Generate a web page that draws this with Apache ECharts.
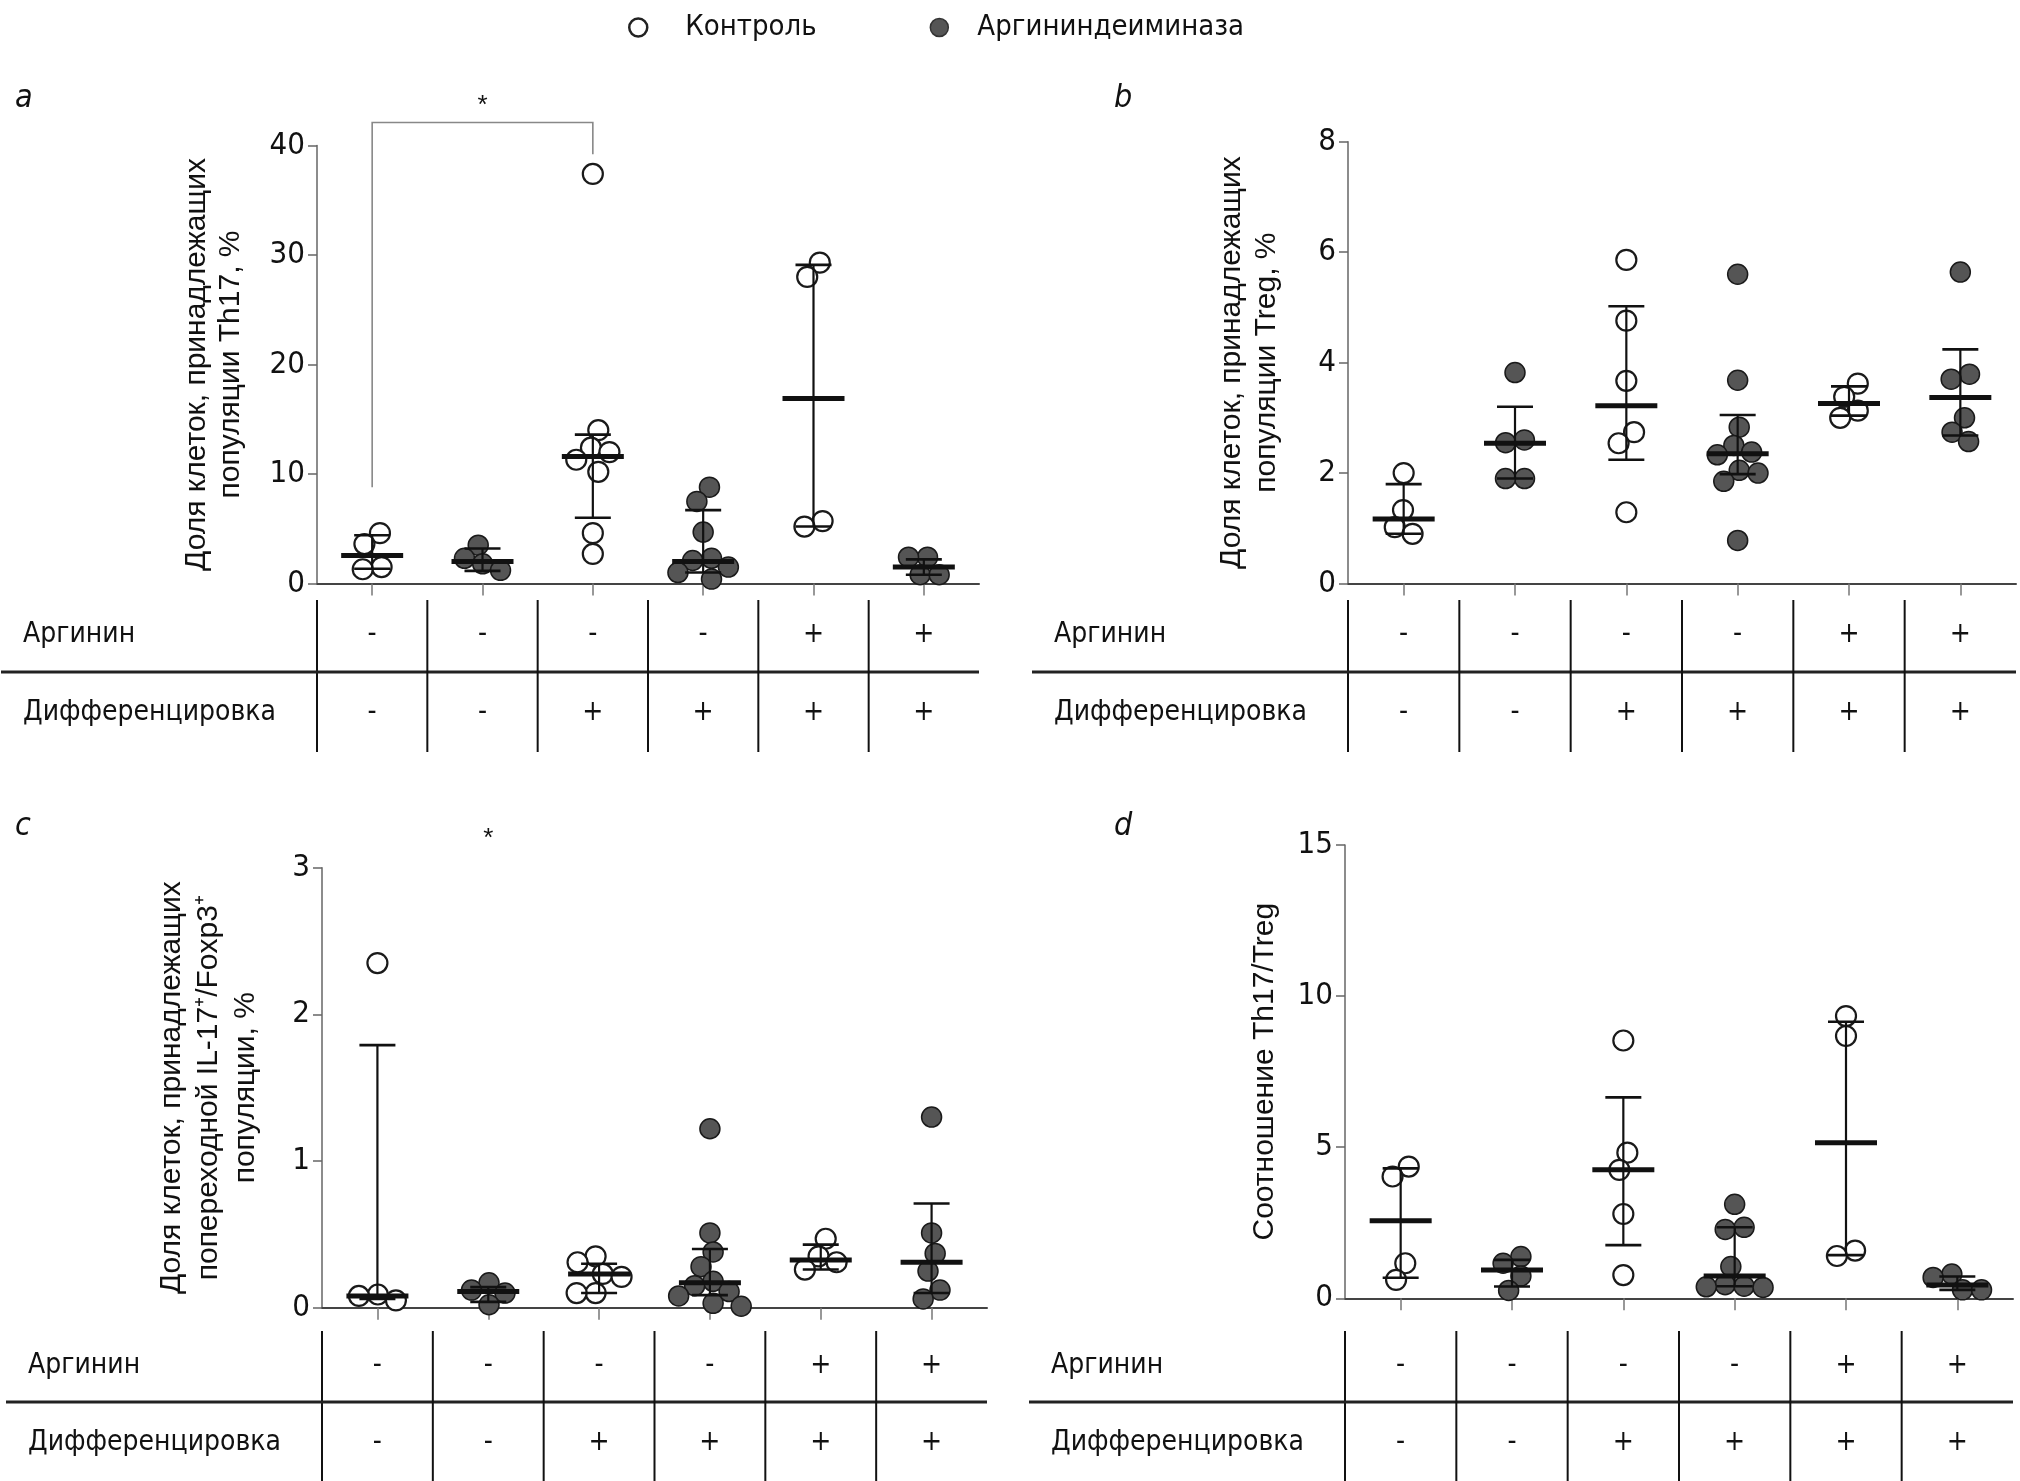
<!DOCTYPE html>
<html><head><meta charset="utf-8">
<script src="https://cdn.jsdelivr.net/npm/echarts@6/dist/echarts.min.js"></script>
<style>html,body{margin:0;padding:0;background:#fff}#c{width:2020px;height:1481px}</style>
</head><body><div id="c"></div>
<script>
// ---------- data ----------
const categories = ['Контроль −/−', 'АДИ −/−', 'Контроль −/+', 'АДИ −/+', 'Контроль +/+', 'АДИ +/+'];
const seriesNames = ['Контроль', 'Аргининдеиминаза'];
const tableRows = ['Аргинин', 'Дифференцировка'];
const arginineSigns = ['-', '-', '-', '-', '+', '+'];
const differentiationSigns = ['-', '-', '+', '+', '+', '+'];
const panelLetters = ['a', 'b', 'c', 'd'];

// a: Th17, %
const th17Ticks = [0, 10, 20, 30, 40];
const th17Points = [
  [4.6, 3.6, 1.5, 1.3],
  [3.5, 2.3, 1.8, 1.2],
  [37.4, 14.0, 12.4, 12.0, 11.3, 10.2, 4.6, 2.7],
  [8.8, 7.5, 4.7, 2.3, 2.1, 1.5, 1.0, 0.4],
  [29.3, 28.0, 5.7, 5.2],
  [2.4, 2.4, 0.8, 0.8]
];
const th17Median = [2.55, 2.0, 11.6, 2.0, 16.9, 1.5];
const th17Low = [1.35, 1.15, 6.0, 1.0, 5.2, 0.8];
const th17High = [4.4, 3.2, 13.6, 6.7, 29.1, 2.2];
const th17Bracket = { from: 0, to: 2, leftEnd: 8.8, top: 42.1, rightEnd: 39.2, starAt: 1, starValue: 43.6, label: '*' };

// b: Treg, %
const tregTicks = [0, 2, 4, 6, 8];
const tregPoints = [
  [2.0, 1.33, 1.02, 0.9],
  [3.82, 2.6, 2.55, 1.9, 1.9],
  [5.86, 4.76, 3.67, 2.74, 2.54, 1.29],
  [5.6, 3.68, 2.83, 2.5, 2.38, 2.33, 2.05, 2.0, 1.85, 0.78],
  [3.62, 3.38, 3.13, 3.0],
  [5.64, 3.79, 3.7, 3.0, 2.74, 2.57]
];
const tregMedian = [1.17, 2.54, 3.22, 2.35, 3.26, 3.37];
const tregLow = [0.9, 1.9, 2.24, 1.98, 3.04, 2.68];
const tregHigh = [1.8, 3.2, 5.02, 3.05, 3.57, 4.24];

// c: IL-17+/Foxp3+, %
const foxTicks = [0, 1, 2, 3];
const foxPoints = [
  [2.35, 0.09, 0.08, 0.05],
  [0.17, 0.12, 0.1, 0.02],
  [0.35, 0.31, 0.23, 0.21, 0.1, 0.1],
  [1.22, 0.51, 0.38, 0.28, 0.18, 0.15, 0.11, 0.08, 0.03, 0.01],
  [0.47, 0.35, 0.31, 0.26],
  [1.30, 0.51, 0.37, 0.25, 0.12, 0.06]
];
const foxMedian = [0.08, 0.11, 0.23, 0.17, 0.325, 0.31];
const foxLow = [0.06, 0.04, 0.1, 0.086, 0.26, 0.1];
const foxHigh = [1.79, 0.14, 0.3, 0.4, 0.43, 0.71];
const foxStar = { starAt: 1, starValue: 3.2, label: '*' };

// d: Th17/Treg
const ratioTicks = [0, 5, 10, 15];
const ratioPoints = [
  [4.36, 4.03, 1.16, 0.61],
  [1.38, 1.16, 0.74, 0.26],
  [8.53, 4.82, 4.25, 2.79, 0.77],
  [3.11, 2.35, 2.28, 1.05, 0.45, 0.4, 0.38, 0.36],
  [9.34, 8.68, 1.58, 1.4],
  [0.8, 0.69, 0.28, 0.28]
];
const ratioMedian = [2.57, 0.94, 4.25, 0.74, 5.15, 0.44];
const ratioLow = [0.68, 0.39, 1.76, 0.4, 1.43, 0.28];
const ratioHigh = [4.3, 1.27, 6.65, 2.35, 9.15, 0.72];

const axisTitles = [
  'Доля клеток, принадлежащих\nпопуляции Th17, %',
  'Доля клеток, принадлежащих\nпопуляции Treg, %',
  'Доля клеток, принадлежащих\nпопереходной IL-17\u207A/Foxp3\u207A\nпопуляции, %',
  'Соотношение Th17/Treg'
];

// ---------- styling ----------
const NARROW = "'Liberation Sans Narrow', 'Arial Narrow', 'DejaVu Sans Condensed', sans-serif";
const COND = "'DejaVu Sans Condensed', 'Liberation Sans Narrow', sans-serif";
const SANS = "'Liberation Sans', Arial, sans-serif";
const R = 10;
const SWARM_D = 19;
const DARK = '#555555';

const layout = [
  { plot: { left: 317, top: 145.5, width: 662, height: 438 }, table: { left: 317, top: 596, width: 662, height: 156 }, nameGap: 69, lineHeight: 34, letter: { left: 10, top: 78 } },
  { plot: { left: 1348, top: 141.7, width: 668, height: 441.8 }, table: { left: 1348, top: 596, width: 668, height: 156 }, nameGap: 64, lineHeight: 35, letter: { left: 1109, top: 78 } },
  { plot: { left: 322, top: 867.7, width: 665, height: 440 }, table: { left: 322, top: 1327, width: 665, height: 158 }, nameGap: 58, lineHeight: 37, letter: { left: 10, top: 806 } },
  { plot: { left: 1345, top: 845, width: 668, height: 453.3 }, table: { left: 1345, top: 1327, width: 668, height: 158 }, nameGap: 62, lineHeight: 37, letter: { left: 1109, top: 806 } }
];

const panels = [
  { ticks: th17Ticks, points: th17Points, median: th17Median, low: th17Low, high: th17High, bracket: th17Bracket },
  { ticks: tregTicks, points: tregPoints, median: tregMedian, low: tregLow, high: tregHigh },
  { ticks: foxTicks, points: foxPoints, median: foxMedian, low: foxLow, high: foxHigh, star: foxStar },
  { ticks: ratioTicks, points: ratioPoints, median: ratioMedian, low: ratioLow, high: ratioHigh }
];

// beeswarm dodge (pixel space); each cluster of touching points is centred
function swarm(ys, D) {
  const n = ys.length;
  const order = ys.map((y, i) => i).sort((a, b) => ys[a] - ys[b]);
  const placed = [];
  const offs = new Array(n).fill(0);
  for (const i of order) {
    const y = ys[i];
    const iv = [];
    for (const p of placed) {
      const dy = Math.abs(p.y - y);
      if (dy < D) { const w = Math.sqrt(D * D - dy * dy); iv.push([p.x - w, p.x + w]); }
    }
    const cands = [0];
    iv.forEach(([a, b]) => cands.push(a, b));
    cands.sort((a, b) => (Math.abs(a) - Math.abs(b)) || (a - b));
    let x = 0;
    for (const c of cands) {
      if (iv.every(([a, b]) => c <= a + 1e-6 || c >= b - 1e-6)) { x = c; break; }
    }
    offs[i] = x;
    placed.push({ x, y });
  }
  const comp = new Array(n).fill(-1);
  let c = 0;
  for (let i = 0; i < n; i++) {
    if (comp[i] >= 0) continue;
    const stack = [i]; comp[i] = c;
    while (stack.length) {
      const k = stack.pop();
      for (let j = 0; j < n; j++) {
        if (comp[j] < 0 && Math.abs(ys[j] - ys[k]) < D) { comp[j] = c; stack.push(j); }
      }
    }
    c++;
  }
  for (let q = 0; q < c; q++) {
    const members = offs.map((o, i) => i).filter(i => comp[i] === q);
    const xs = members.map(i => offs[i]);
    const shift = (Math.min(...xs) + Math.max(...xs)) / 2;
    members.forEach(i => { offs[i] -= shift; });
  }
  return offs;
}

function groupRenderer(panel) {
  return function (params, api) {
    const gi = api.value(0);
    const pts = panel.points[gi];
    const mid = api.coord([gi, panel.median[gi]]);
    const cx = mid[0];
    const ys = pts.map(v => api.coord([gi, v])[1]);
    const offs = swarm(ys, SWARM_D);
    const filled = gi % 2 === 1;
    const children = [];
    pts.forEach((v, k) => {
      children.push({ type: 'circle', shape: { cx: cx + offs[k], cy: ys[k], r: R },
        style: { fill: filled ? DARK : '#ffffff', stroke: '#1a1a1a', lineWidth: filled ? 1.5 : 2.2 } });
    });
    const yLo = api.coord([gi, panel.low[gi]])[1];
    const yHi = api.coord([gi, panel.high[gi]])[1];
    children.push({ type: 'line', shape: { x1: cx, y1: yLo, x2: cx, y2: yHi }, style: { stroke: '#111', lineWidth: 2.2 } });
    children.push({ type: 'line', shape: { x1: cx - 18, y1: yLo, x2: cx + 18, y2: yLo }, style: { stroke: '#111', lineWidth: 2.6 } });
    children.push({ type: 'line', shape: { x1: cx - 18, y1: yHi, x2: cx + 18, y2: yHi }, style: { stroke: '#111', lineWidth: 2.6 } });
    children.push({ type: 'line', shape: { x1: cx - 31, y1: mid[1], x2: cx + 31, y2: mid[1] }, style: { stroke: '#111', lineWidth: 5 } });
    return { type: 'group', children };
  };
}

function tableRenderer(params, api) {
  const i = api.value(0);
  const cs = params.coordSys;
  const p0 = api.coord([i, 0]);
  const p1 = api.coord([i, 1]);
  const band = api.size([1, 0])[0];
  const xl = p0[0] - band / 2;
  const txt = (s, pos) => ({ type: 'text', x: pos[0], y: pos[1],
    style: { text: s, fill: '#111', font: '28px ' + COND, align: 'center', verticalAlign: 'middle' } });
  const children = [
    txt(arginineSigns[i], p0),
    txt(differentiationSigns[i], p1),
    { type: 'line', shape: { x1: xl, y1: cs.y + 4, x2: xl, y2: cs.y + cs.height }, style: { stroke: '#111', lineWidth: 2 } }
  ];
  if (i === 0) {
    const ym = (p0[1] + p1[1]) / 2 - 2;
    children.push({ type: 'line', shape: { x1: cs.x - 316, y1: ym, x2: cs.x + cs.width, y2: ym }, style: { stroke: '#222', lineWidth: 3 } });
  }
  return { type: 'group', children };
}

function annotationRenderer(panel) {
  return function (params, api) {
    const children = [];
    const b = panel.bracket;
    if (b) {
      const p1 = api.coord([b.from, b.leftEnd]);
      const p2 = api.coord([b.from, b.top]);
      const p3 = api.coord([b.to, b.top]);
      const p4 = api.coord([b.to, b.rightEnd]);
      children.push({ type: 'polyline', shape: { points: [p1, p2, p3, p4] }, style: { stroke: '#888', lineWidth: 1.6, fill: null } });
    }
    const s = panel.bracket || panel.star;
    if (s) {
      const ps = api.coord([s.starAt, s.starValue]);
      children.push({ type: 'text', x: ps[0], y: ps[1], style: { text: s.label, fill: '#111', font: '26px ' + SANS, align: 'center', verticalAlign: 'middle' } });
    }
    return { type: 'group', children };
  };
}

// ---------- option ----------
const grid = [], xAxis = [], yAxis = [], series = [], title = [];
panels.forEach((panel, p) => {
  const L = layout[p];
  grid.push(Object.assign({}, L.plot));
  grid.push(Object.assign({}, L.table));
  const gPlot = 2 * p, gTab = 2 * p + 1;
  xAxis.push({
    type: 'category', gridIndex: gPlot, data: categories, boundaryGap: true,
    axisLabel: { show: false },
    axisTick: { show: true, alignWithLabel: true, length: 12, lineStyle: { color: '#777', width: 1.5 } },
    axisLine: { show: true, lineStyle: { color: '#444', width: 2 } },
    splitLine: { show: false }
  });
  xAxis.push({ type: 'category', gridIndex: gTab, data: categories, show: false });
  const t = panel.ticks;
  yAxis.push({
    type: 'value', gridIndex: gPlot, min: t[0], max: t[t.length - 1], interval: t[1] - t[0],
    axisLine: { show: true, lineStyle: { color: '#666', width: 1.5 } },
    axisTick: { show: true, length: 9, lineStyle: { color: '#666', width: 1.5 } },
    splitLine: { show: false },
    axisLabel: { fontSize: 31, fontFamily: NARROW, color: '#111', margin: 12 },
    name: axisTitles[p], nameLocation: 'middle', nameGap: L.nameGap, nameRotate: 90,
    nameTextStyle: { fontSize: 30, fontFamily: SANS, color: '#111', lineHeight: L.lineHeight }
  });
  yAxis.push({
    type: 'category', gridIndex: gTab, data: tableRows, inverse: true,
    axisLine: { show: false }, axisTick: { show: false }, splitLine: { show: false },
    axisLabel: { align: 'left', margin: 294, fontSize: 28, fontFamily: COND, color: '#111' }
  });
  [0, 1].forEach(kind => {
    const idx = categories.map((c, i) => i).filter(i => i % 2 === kind);
    series.push({
      type: 'custom', name: seriesNames[kind], xAxisIndex: gPlot, yAxisIndex: gPlot,
      data: idx.map(i => [i, panel.median[i]]),
      encode: { x: 0, y: 1 },
      itemStyle: kind === 0 ? { color: '#fff', borderColor: '#222' } : { color: DARK, borderColor: '#222' },
      renderItem: groupRenderer(panel), clip: false, z: 2
    });
  });
  series.push({
    type: 'custom', xAxisIndex: gTab, yAxisIndex: gTab, silent: true,
    data: categories.map((c, i) => [i, 0]), encode: { x: 0, y: 1 },
    renderItem: tableRenderer, clip: false
  });
  if (panel.bracket || panel.star) {
    series.push({
      type: 'custom', xAxisIndex: gPlot, yAxisIndex: gPlot, silent: true,
      data: [[0, 0]], encode: { x: 0, y: 1 },
      renderItem: annotationRenderer(panel), clip: false
    });
  }
  title.push({ text: panelLetters[p], left: L.letter.left, top: L.letter.top,
    textStyle: { fontStyle: 'italic', fontWeight: 'normal', fontSize: 32, fontFamily: NARROW, color: '#111' } });
});

const chart = echarts.init(document.getElementById('c'), null, { renderer: 'canvas' });
chart.setOption({
  backgroundColor: '#ffffff',
  animation: false,
  title,
  legend: {
    left: 623, top: 8, itemWidth: 18, itemHeight: 18, itemGap: 113, selectedMode: false,
    data: [
      { name: seriesNames[0], icon: 'circle', itemStyle: { color: '#fff', borderColor: '#222', borderWidth: 2.5 },
        textStyle: { fontSize: 29, fontFamily: COND, color: '#111', padding: [0, 0, 0, 33] } },
      { name: seriesNames[1], icon: 'circle', itemStyle: { color: DARK, borderColor: '#333', borderWidth: 1.5 },
        textStyle: { fontSize: 29, fontFamily: COND, color: '#111', padding: [0, 0, 0, 24] } }
    ],
    textStyle: { fontSize: 29, fontFamily: COND, color: '#111' }
  },
  grid, xAxis, yAxis, series
});
</script>
</body></html>
